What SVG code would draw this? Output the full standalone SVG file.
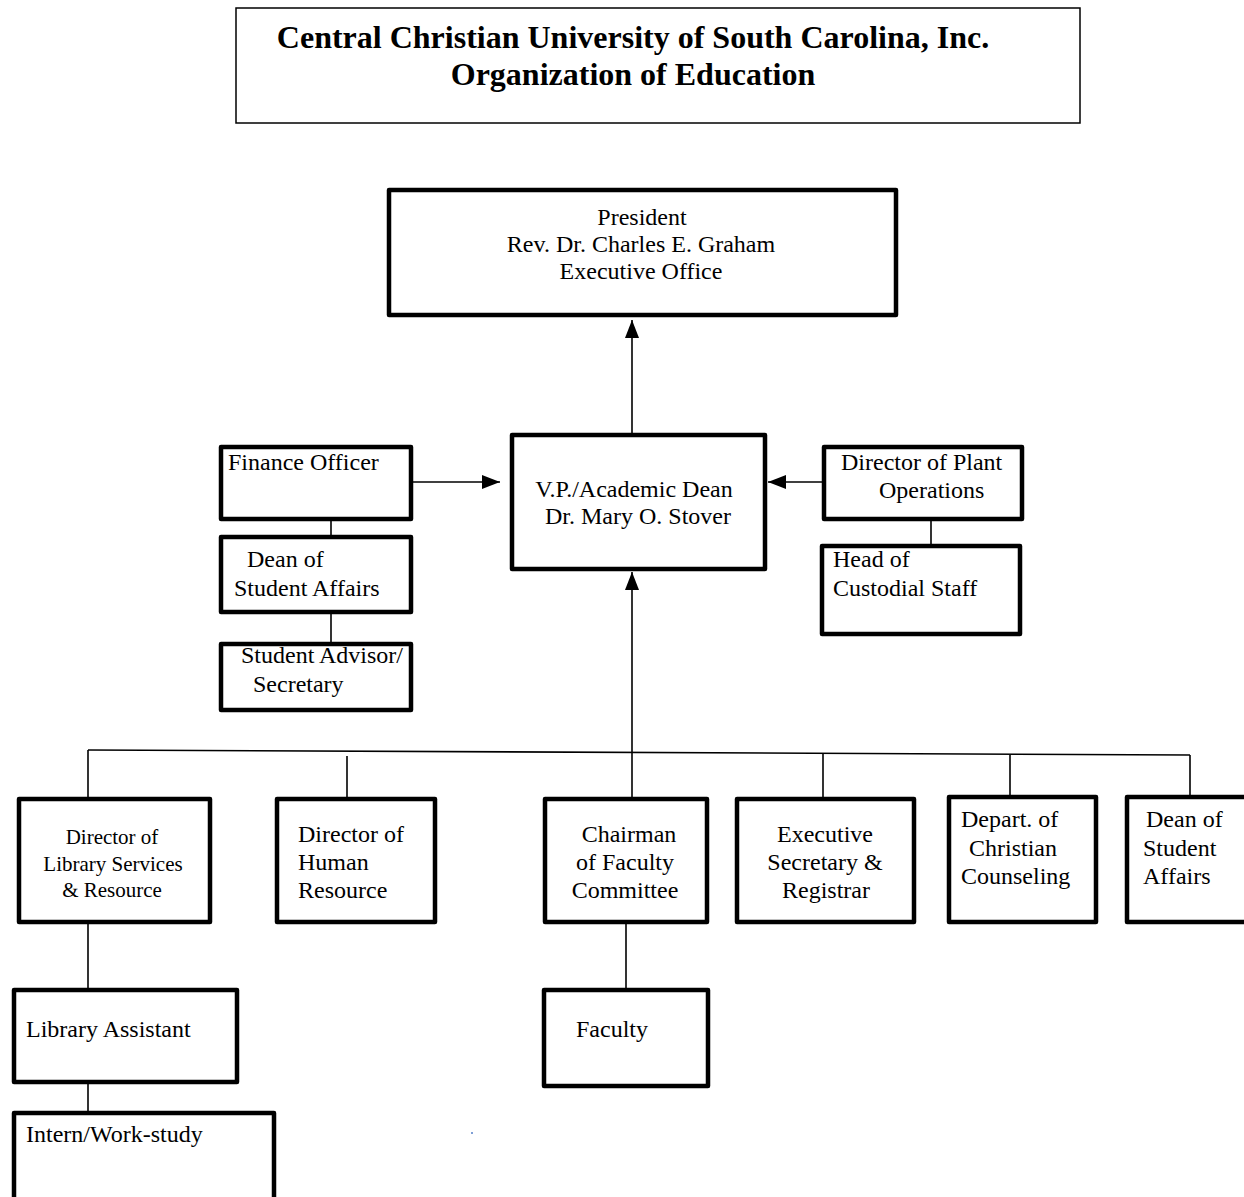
<svg xmlns="http://www.w3.org/2000/svg" width="1244" height="1197" viewBox="0 0 1244 1197">
<style>
.box{fill:#fff;stroke:#000;stroke-width:4.5;stroke-linejoin:round}
.title-box{fill:#fff;stroke:#000;stroke-width:1.5}
.t{font-family:"Liberation Serif","Times New Roman",serif;font-size:24px;fill:#000}
.ts{font-family:"Liberation Serif","Times New Roman",serif;font-size:21px;fill:#000}
.c{text-anchor:middle}
.title{font-family:"Liberation Serif","Times New Roman",serif;font-size:32px;font-weight:bold;fill:#000;text-anchor:middle}
.ln{stroke:#000;stroke-width:1.6;fill:none}
</style>
<defs>
<marker id="ah" viewBox="0 0 18 14" refX="18" refY="7" markerWidth="18" markerHeight="14" orient="auto" markerUnits="userSpaceOnUse">
<path d="M0,0 L18,7 L0,14 z" fill="#000"/>
</marker>
</defs>
<rect width="1244" height="1197" fill="#fff"/>

<g id="connectors">
<line class="ln" x1="632" y1="433" x2="632" y2="320" marker-end="url(#ah)"/>
<line class="ln" x1="412" y1="482" x2="500" y2="482" marker-end="url(#ah)"/>
<line class="ln" x1="822" y1="482" x2="768" y2="482" marker-end="url(#ah)"/>
<line class="ln" x1="632" y1="798" x2="632" y2="572" marker-end="url(#ah)"/>
<line class="ln" x1="331" y1="520" x2="331" y2="536"/>
<line class="ln" x1="331" y1="613" x2="331" y2="643"/>
<line class="ln" x1="931" y1="520" x2="931" y2="545"/>
<line class="ln" x1="88" y1="750" x2="1190" y2="755"/>
<line class="ln" x1="88" y1="750" x2="88" y2="798"/>
<line class="ln" x1="347" y1="756" x2="347" y2="803"/>
<line class="ln" x1="823" y1="754" x2="823" y2="798"/>
<line class="ln" x1="1010" y1="755" x2="1010" y2="797"/>
<line class="ln" x1="1190" y1="755" x2="1190" y2="797"/>
<line class="ln" x1="88" y1="923" x2="88" y2="989"/>
<line class="ln" x1="88" y1="1083" x2="88" y2="1112"/>
<line class="ln" x1="626" y1="923" x2="626" y2="988"/>
</g>

<g id="title">
<rect class="title-box" x="236" y="8" width="844" height="115"/>
<text class="title" x="633" y="48">Central Christian University of South Carolina, Inc.</text>
<text class="title" x="633" y="85">Organization of Education</text>
</g>

<g id="president">
<rect class="box" x="389" y="190" width="507" height="125"/>
<text class="t c" x="642" y="225">President</text>
<text class="t c" x="641" y="252">Rev. Dr. Charles E. Graham</text>
<text class="t c" x="641" y="279">Executive Office</text>
</g>

<g id="vp">
<rect class="box" x="512" y="435" width="253" height="134"/>
<text class="t c" x="634" y="497">V.P./Academic Dean</text>
<text class="t c" x="638" y="524">Dr. Mary O. Stover</text>
</g>

<g id="finance">
<rect class="box" x="221" y="447" width="190" height="72"/>
<text class="t" x="228" y="470">Finance Officer</text>
</g>

<g id="dean-student-affairs-left">
<rect class="box" x="221" y="537" width="190" height="75"/>
<text class="t" x="247" y="567">Dean of</text>
<text class="t" x="234" y="596">Student Affairs</text>
</g>

<g id="student-advisor">
<rect class="box" x="221" y="644" width="190" height="66"/>
<text class="t" x="241" y="663">Student Advisor/</text>
<text class="t" x="253" y="692">Secretary</text>
</g>

<g id="plant">
<rect class="box" x="824" y="447" width="198" height="72"/>
<text class="t" x="841" y="470">Director of Plant</text>
<text class="t" x="879" y="498">Operations</text>
</g>

<g id="custodial">
<rect class="box" x="822" y="546" width="198" height="88"/>
<text class="t" x="833" y="567">Head of</text>
<text class="t" x="833" y="596">Custodial Staff</text>
</g>

<g id="library">
<rect class="box" x="19" y="799" width="191" height="123"/>
<text class="ts c" x="112" y="844">Director of</text>
<text class="ts c" x="113" y="871">Library Services</text>
<text class="ts c" x="112" y="897">&amp; Resource</text>
</g>

<g id="human-resource">
<rect class="box" x="277" y="799" width="158" height="123"/>
<text class="t" x="298" y="842">Director of</text>
<text class="t" x="298" y="870">Human</text>
<text class="t" x="298" y="898">Resource</text>
</g>

<g id="chairman">
<rect class="box" x="545" y="799" width="162" height="123"/>
<text class="t c" x="629" y="842">Chairman</text>
<text class="t c" x="625" y="870">of Faculty</text>
<text class="t c" x="625" y="898">Committee</text>
</g>

<g id="exec-secretary">
<rect class="box" x="737" y="799" width="177" height="123"/>
<text class="t c" x="825" y="842">Executive</text>
<text class="t c" x="825" y="870">Secretary &amp;</text>
<text class="t c" x="826" y="898">Registrar</text>
</g>

<g id="christian-counseling">
<rect class="box" x="949" y="797" width="147" height="125"/>
<text class="t" x="961" y="827">Depart. of</text>
<text class="t" x="969" y="856">Christian</text>
<text class="t" x="961" y="884">Counseling</text>
</g>

<g id="dean-student-affairs-right">
<rect class="box" x="1127" y="797" width="125" height="125"/>
<text class="t" x="1146" y="827">Dean of</text>
<text class="t" x="1143" y="856">Student</text>
<text class="t" x="1143" y="884">Affairs</text>
</g>

<g id="library-assistant">
<rect class="box" x="14" y="990" width="223" height="92"/>
<text class="t" x="26" y="1037">Library Assistant</text>
</g>

<g id="intern">
<rect class="box" x="14" y="1113" width="260" height="100"/>
<text class="t" x="26" y="1142">Intern/Work-study</text>
</g>

<g id="faculty">
<rect class="box" x="544" y="990" width="164" height="96"/>
<text class="t" x="576" y="1037">Faculty</text>
</g>

<rect x="471" y="1132" width="2" height="2" fill="#7f9fd6"/>
</svg>
